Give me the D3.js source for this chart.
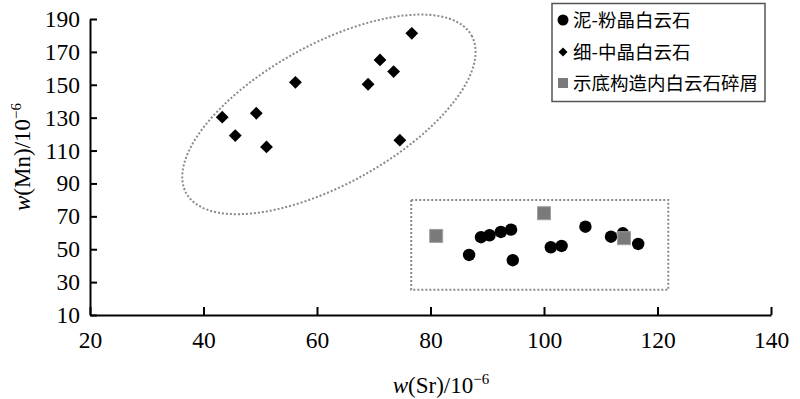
<!DOCTYPE html>
<html>
<head>
<meta charset="utf-8">
<script src="https://cdn.jsdelivr.net/npm/d3@7"></script>
<style>
  body { margin: 0; background: #fff; }
  svg { display: block; }
</style>
</head>
<body>
<div id="grafico"></div>
<script>
// 泥-粉晶白云石
var srMud = [86.8, 88.9, 90.4, 92.4, 94.2, 94.5, 101.2, 103.1, 107.3, 111.8, 113.9, 116.6];
var mnMud = [46.5, 57.3, 58.5, 60.5, 61.9, 43.3, 51.2, 52.0, 63.7, 57.6, 59.7, 53.2];
// 细-中晶白云石
var srFine = [43.3, 45.6, 49.3, 51.1, 56.2, 69.0, 71.1, 73.5, 74.6, 76.7];
var mnFine = [130.3, 119.1, 132.7, 112.2, 151.5, 150.3, 165.1, 158.0, 116.3, 181.3];
// 示底构造内白云石碎屑
var srClast = [81.0, 100.0, 114.1];
var mnClast = [58.1, 71.9, 56.7];

var xTicks = [20, 40, 60, 80, 100, 120, 140];
var yTicks = [10, 30, 50, 70, 90, 110, 130, 150, 170, 190];
var legendLabels = ['泥-粉晶白云石', '细-中晶白云石', '示底构造内白云石碎屑'];

// annotation shapes, in data units
var ellipseCenter = [62.1, 132];
var boxCorners = [[76.6, 80], [121.9, 25.3]];

var width = 800, height = 399;
var svg = d3.select('#grafico').append('svg').attr('width', width).attr('height', height);

var x = d3.scaleLinear().domain([20, 140]).range([90, 771]);
var y = d3.scaleLinear().domain([10, 190]).range([315, 19]);

var serif = '"Liberation Serif", "Times New Roman", serif';
var cjk = '"Noto Sans CJK SC", sans-serif';

/* AXES */
var gx = svg.append('g').attr('transform', 'translate(0,' + y(10) + ')')
    .call(d3.axisBottom(x).tickValues(xTicks).tickSizeInner(-8).tickSizeOuter(0).tickPadding(16));
var gy = svg.append('g').attr('transform', 'translate(' + x(20) + ',0)')
    .call(d3.axisLeft(y).tickValues(yTicks).tickSizeInner(-7).tickSizeOuter(0).tickPadding(10));

[gx, gy].forEach(function(g) {
    g.select('.domain').attr('stroke', '#000').attr('stroke-width', 2);
    g.selectAll('.tick line').attr('stroke', '#000').attr('stroke-width', 2);
    g.selectAll('.tick text').attr('fill', '#000').style('font-family', serif).style('font-size', '23.5px');
});

/* AXIS TITLES */
var xt = svg.append('text').attr('x', 441).attr('y', 393).attr('text-anchor', 'middle')
    .style('font-family', serif).style('font-size', '23px').attr('fill', '#000');
xt.append('tspan').style('font-style', 'italic').text('w');
xt.append('tspan').text('(Sr)/10');
xt.append('tspan').attr('dy', -9).style('font-size', '15px').text('−6');

var yt = svg.append('text').attr('transform', 'translate(30,157) rotate(-90)').attr('text-anchor', 'middle')
    .style('font-family', serif).style('font-size', '23px').attr('fill', '#000');
yt.append('tspan').style('font-style', 'italic').text('w');
yt.append('tspan').text('(Mn)/10');
yt.append('tspan').attr('dy', -9).style('font-size', '15px').text('−6');

/* ANNOTATIONS */
var cx = x(ellipseCenter[0]), cy = y(ellipseCenter[1]);
svg.append('ellipse')
    .attr('cx', 0).attr('cy', 0).attr('rx', 163).attr('ry', 70)
    .attr('transform', 'translate(' + cx + ',' + cy + ') rotate(-28.9)')
    .attr('fill', 'none').attr('stroke', '#8a8a8a').attr('stroke-width', 2).attr('stroke-dasharray', '2,2');

svg.append('rect')
    .attr('x', x(boxCorners[0][0])).attr('y', y(boxCorners[0][1]))
    .attr('width', x(boxCorners[1][0]) - x(boxCorners[0][0]))
    .attr('height', y(boxCorners[1][1]) - y(boxCorners[0][1]))
    .attr('fill', 'none').attr('stroke', '#8a8a8a').attr('stroke-width', 2).attr('stroke-dasharray', '2,2');

/* POINTS */
var diamond = d3.symbol().type(d3.symbolDiamond2).size(105);
var diamondLeg = d3.symbol().type(d3.symbolDiamond2).size(52);

svg.append('g').selectAll('path').data(srFine).enter().append('path')
    .attr('d', diamond)
    .attr('transform', function(d, i) { return 'translate(' + x(d) + ',' + y(mnFine[i]) + ')'; })
    .attr('fill', '#000');

svg.append('g').selectAll('circle').data(srMud).enter().append('circle')
    .attr('cx', function(d) { return x(d); })
    .attr('cy', function(d, i) { return y(mnMud[i]); })
    .attr('r', 6.2).attr('fill', '#000');

svg.append('g').selectAll('rect').data(srClast).enter().append('rect')
    .attr('x', function(d) { return x(d) - 6.5; })
    .attr('y', function(d, i) { return y(mnClast[i]) - 6.5; })
    .attr('width', 13).attr('height', 13)
    .attr('fill', '#7a7a7a').attr('stroke', '#a0a0a0').attr('stroke-width', 1);

/* LEGEND */
var leg = svg.append('g');
leg.append('rect').attr('x', 552).attr('y', 3.5).attr('width', 213).attr('height', 98)
    .attr('fill', '#fff').attr('stroke', '#555').attr('stroke-width', 1.5);

var rowY = [20, 52, 83];
leg.append('circle').attr('cx', 563).attr('cy', rowY[0]).attr('r', 5.5).attr('fill', '#000');
leg.append('path').attr('d', diamondLeg).attr('transform', 'translate(563,' + rowY[1] + ')').attr('fill', '#000');
leg.append('rect').attr('x', 558).attr('y', rowY[2] - 5).attr('width', 10).attr('height', 10).attr('fill', '#7a7a7a');

leg.selectAll('text.lab').data(legendLabels).enter().append('text')
    .attr('class', 'lab')
    .attr('x', 573)
    .attr('y', function(d, i) { return rowY[i]; })
    .attr('dy', '0.36em')
    .style('font-family', cjk).style('font-size', '18.5px').attr('fill', '#000')
    .text(function(d) { return d; });
</script>
</body>
</html>
